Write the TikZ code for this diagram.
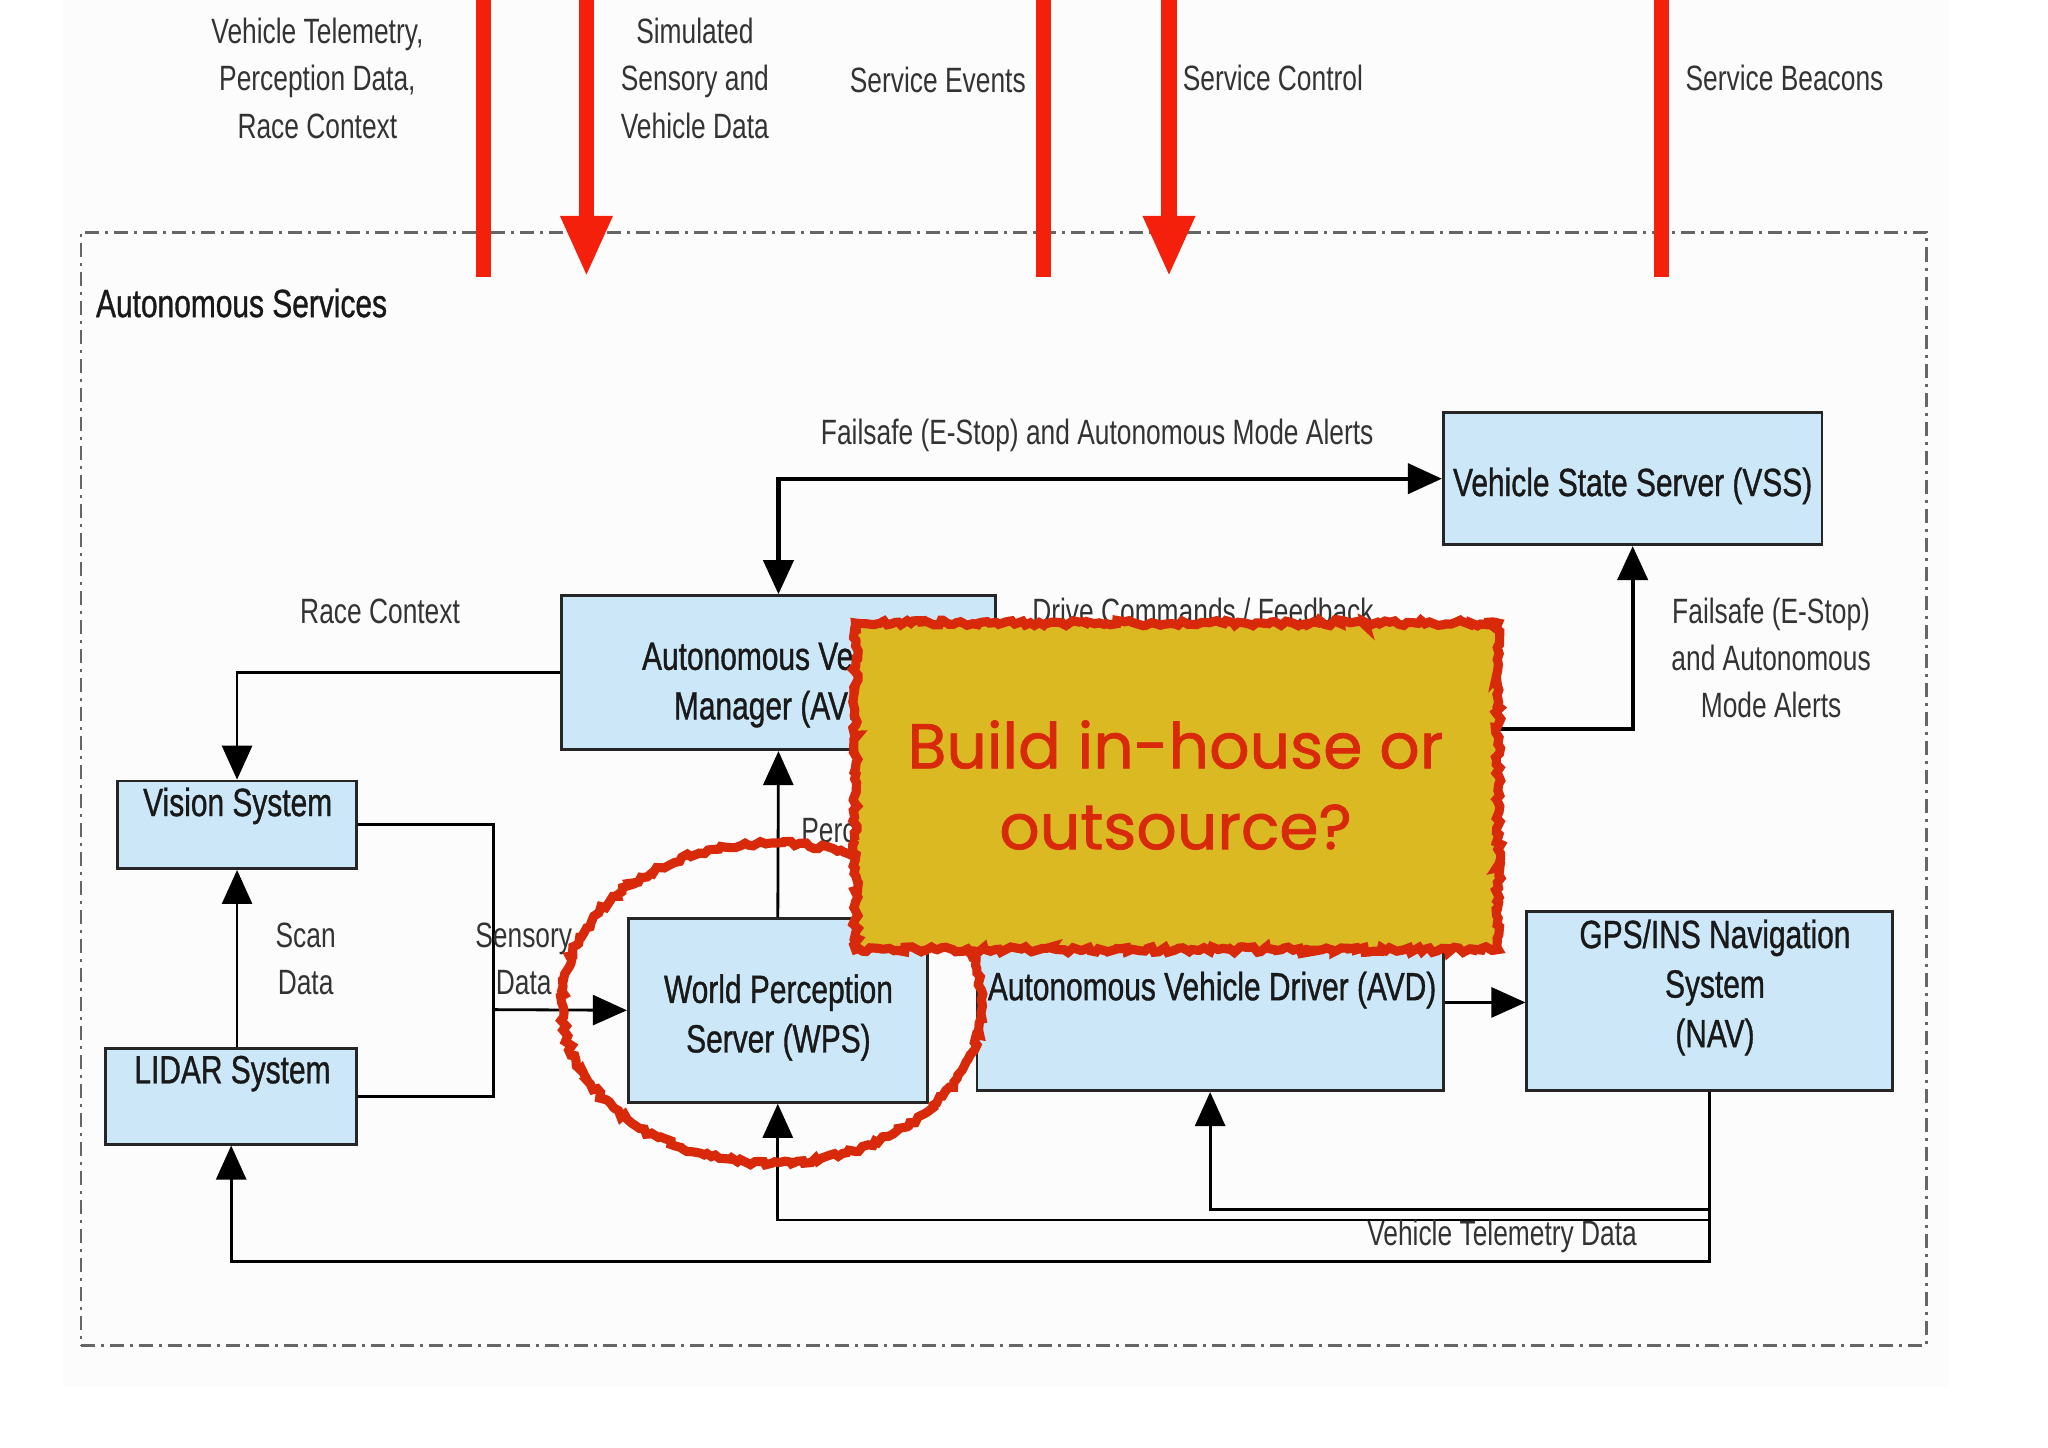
\documentclass[tikz,border=0pt]{standalone}
\usepackage{fontspec}
\setmainfont{Liberation Sans}[FakeStretch=0.75]
\newfontfamily\boxfam{Liberation Sans}[FakeStretch=0.76, FakeBold=0.9]
\newfontfamily\buildfont{Poppins}[FakeBold=1.2]
\usepackage{tikz}
\usetikzlibrary{positioning,arrows.meta,calc,fit,shapes.geometric,decorations.pathmorphing}
\usepackage{xcolor}
\definecolor{boxblue}{HTML}{CCE8F8}
\definecolor{busred}{HTML}{F5200C}
\definecolor{notegold}{HTML}{DBB922}
\definecolor{notered}{HTML}{D8290B}
\newcommand{\boxfont}{\boxfam\fontsize{11.2pt}{14.1pt}\selectfont}
\newcommand{\lblfont}{\fontsize{10pt}{13.4pt}\selectfont}
\newcommand{\blk}[5]{% #1 name, #2-#3 top left, #4-#5 bottom right
  \node[blk, fit={(#2,#3) (#4,#5)}] (#1) {};
}
\tikzset{
  blk/.style={draw=black!85, fill=boxblue, line width=0.8pt},
  blktxt/.style={font=\boxfont, align=center, text=black!90},
  lbl/.style={font=\lblfont, align=center, text=black!80},
  conn/.style={draw=black, line width=0.8pt},
  flow/.style={-{Triangle[length=3.4mm,width=3mm]}},
  biflow/.style={{Triangle[length=3.4mm,width=3mm]}-{Triangle[length=3.4mm,width=3mm]}},
  redbar/.style={draw=busred, line width=4.3pt},
  svcframe/.style={draw=black!60, line width=0.7pt, dash pattern=on 1.4mm off 0.6mm on 0.3mm off 0.6mm},
  ring/.style={ellipse, draw=notered, line width=2.6pt, decorate,
    decoration={random steps, segment length=1.2pt, amplitude=0.7pt}},
  notebox/.style={draw=notered, fill=notegold, line width=2.6pt, decorate,
    decoration={random steps, segment length=1.2pt, amplitude=0.8pt}},
  notetxt/.style={font=\buildfont\fontsize{18pt}{23pt}\selectfont, text=notered, align=center}
}

\begin{document}
\begin{tikzpicture}[x=0.1306mm, y=-0.1306mm, every node/.style={inner sep=0pt}]
  \useasboundingbox (0,0) rectangle (1568,1108);
  \fill[black!1] (48,0) rectangle (1492,1062);
  \pgfmathsetseed{7}

  % service frame
  \node[svcframe, fit={(62,178) (1475,1030)}] (svc) {};
  \node[blktxt, anchor=west] (svc-t) at (73,232) {Autonomous Services};

  % service bus
  \foreach \x [count=\i] in {370,799,1272}
    \draw[redbar] (\x,0) coordinate (bus\i) -- (\x,212) coordinate (bus\i-end);
  \foreach \x [count=\i] in {449,895}
    \draw[redbar, -{Triangle[length=6.1mm,width=4.8mm]}] (\x,0) coordinate (cmd\i) -- (\x,212) coordinate (cmd\i-end);

  \node[lbl] (telem-t) at (243,60) {Vehicle Telemetry,\\Perception Data,\\Race Context};
  \node[lbl] (sim-t) at (532,60) {Simulated\\Sensory and\\Vehicle Data};
  \node[lbl] (events-t) at (718,61) {Service Events};
  \node[lbl, anchor=west] (control-t) at (905,60) {Service Control};
  \node[lbl, anchor=west] (beacons-t) at (1290,60) {Service Beacons};

  % blocks
  \blk{vss}{1105}{316}{1395}{417}
  \blk{avm}{430}{456}{762}{574}
  \blk{vis}{90}{598}{273}{665}
  \blk{lid}{81}{803}{273}{876}
  \blk{wps}{481}{703}{710}{844}
  \blk{avd}{748}{700}{1105}{835}
  \blk{nav}{1169}{698}{1449}{835}
  \node[blktxt] (vss-t) at (1250,372) {Vehicle State Server (VSS)};
  \node[blktxt] (avm-t) at (596,524) {Autonomous Vehicle\\Manager (AVM)};
  \node[blktxt] (vis-t) at (182,617) {Vision System};
  \node[blktxt] (lid-t) at (178,822) {LIDAR System};
  \node[blktxt] (wps-t) at (596,779) {World Perception\\Server (WPS)};
  \node[blktxt] (avd-t) at (928,758) {Autonomous Vehicle Driver (AVD)};
  \node[blktxt] (nav-t) at (1313,756) {GPS/INS Navigation\\System\\(NAV)};

  % links
  \coordinate (sens) at (378,773);
  \coordinate (alert) at (1250,558);
  \coordinate (tel) at (1309,966);
  \coordinate (tel-avd) at (1309,926);
  \coordinate (tel-wps) at (1309,934);
  \draw[conn, line width=1.2pt, biflow] (avm.north) |- (vss.west);
  \draw[conn, flow] (avm.west) -| (vis.north);
  \draw[conn, flow] (lid.north -| vis.south) -- (vis.south);
  \draw[conn] (vis.east) -| (sens) |- (lid.east);
  \draw[conn, flow] (sens) -- (wps.west);
  \draw[conn, flow] (wps.north) -- (avm.south);
  \draw[conn, flow] ($(avm.east)+(0,-20)$) -| (avd.north);
  \draw[conn, line width=1.2pt, flow] (avm.east |- alert) -- (alert) -- (vss.south);
  \draw[conn, flow] (avd.east) -- (avd.east -| nav.west);
  \draw[conn, flow] (nav.south) -- (tel) -| (lid.south);
  \draw[conn, flow] (tel-avd) -| (avd.south);
  \draw[conn, flow] (tel-wps) -| (wps.south);

  \node[lbl] (fs-t) at (840,333) {Failsafe (E-Stop) and Autonomous Mode Alerts};
  \node[lbl] (race-t) at (291,468) {Race Context};
  \node[lbl] (scan-t) at (234,734) {Scan\\Data};
  \node[lbl] (sens-t) at (401,734) {Sensory\\Data};
  \node[lbl, anchor=west] (perc-t) at (613,638) {Perception Data};
  \node[lbl] (drive-t) at (921,468) {Drive Commands / Feedback};
  \node[lbl] (fs2-t) at (1356,504) {Failsafe (E-Stop)\\and Autonomous\\Mode Alerts};
  \node[lbl] (veh-t) at (1150,947) {Vehicle Telemetry Data};

  % question note
  \node[ring, minimum width=42mm, minimum height=32mm] (ring) at (591,768) {};
  \node[notebox, fit={(655,477) (1147,727)}] (note) {};
  \node[notetxt] (note-t) at (900,601) {Build in-house or\\outsource?};
\end{tikzpicture}
\end{document}
